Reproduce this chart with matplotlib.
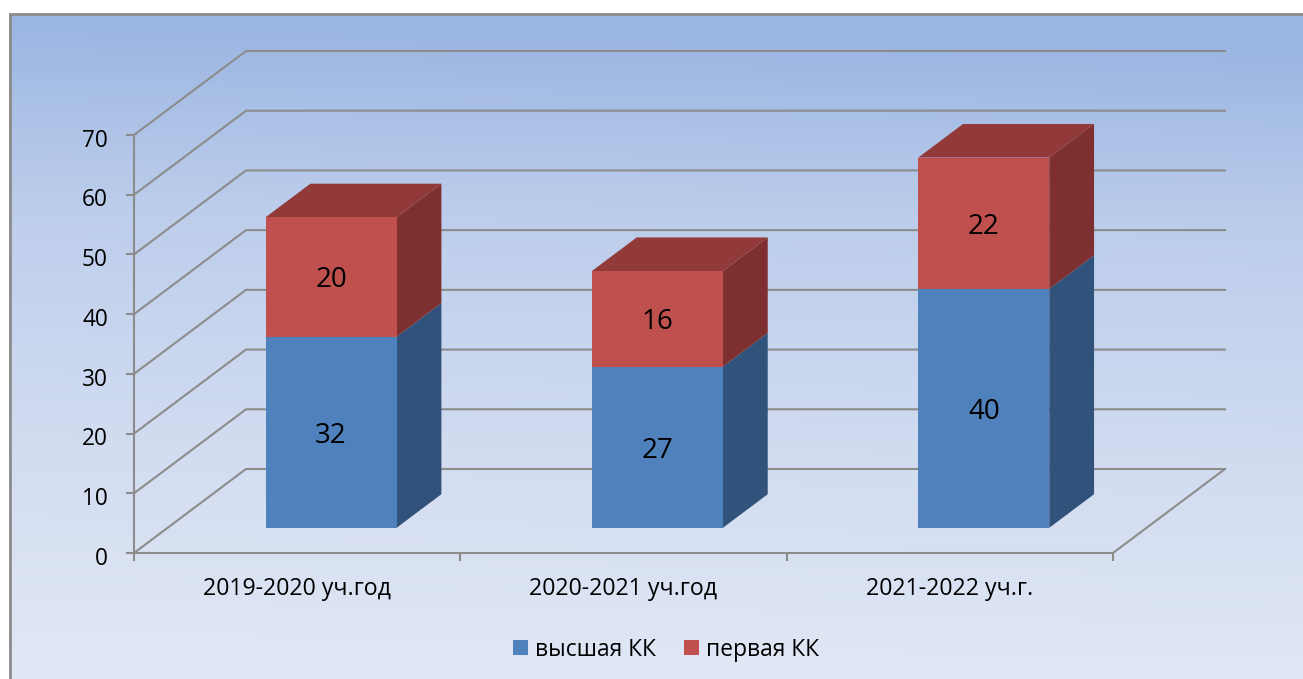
import matplotlib
matplotlib.use("Agg")
import matplotlib.pyplot as plt
from matplotlib.patches import Polygon, Rectangle
from matplotlib.transforms import ScaledTranslation
import numpy as np

categories = ["2019-2020 уч.год", "2020-2021 уч.год", "2021-2022 уч.г."]
series_names = ["высшая КК", "первая КК"]
vysshaya = [32, 27, 40]
pervaya = [20, 16, 22]
y_ticks = [0, 10, 20, 30, 40, 50, 60, 70]

W, H = 1303, 679
GRID = "#8c8c8c"
BLUE = ("#4f81bd", "#31527a")
RED = ("#c0504d", "#7d302f", "#923a39")

plt.rcParams["font.family"] = ["Open Sans", "DejaVu Sans"]

fig = plt.figure(figsize=(W / 100, H / 100), dpi=100, facecolor="white")

# background panel with the gradient, in pixels
bg = fig.add_axes([0, 0, 1, 1])
bg.axis("off")
stops = [0, 0.28, 0.66, 1.0]
grad = np.array([[154, 181, 226], [188, 205, 235], [211, 221, 241], [225, 232, 245]]) / 255
yy, xx = np.mgrid[0:1:200j, 0:1:100j]
t = yy - 0.04 * xx
img = np.dstack([np.interp(t, stops, grad[:, c]) for c in range(3)])
bg.imshow(img, extent=[9, W, H, 14], aspect="auto", zorder=0)
bg.set_xlim(0, W)
bg.set_ylim(H, 0)
bg.plot([9.5, 9.5, W], [H, 14, 14], color=GRID, lw=2, solid_joinstyle="miter", zorder=1)

# main axes is the front plane of the 3d box
left, right, bottom, top = 134, 1113, 553, 135
ax = fig.add_axes([left / W, 1 - bottom / H, (right - left) / W, (bottom - top) / H])
ax.set_xlim(0, 3)
ax.set_ylim(0, 70)
ax.patch.set_alpha(0)
for s in ["top", "right"]:
    ax.spines[s].set_visible(False)
for s in ["left", "bottom"]:
    ax.spines[s].set_color(GRID)
    ax.spines[s].set_linewidth(1.5)

# depth of the box in data units
dx = 112 / ((right - left) / 3)
dy = 84 / ((bottom - top) / 70)

for v in y_ticks:
    ax.plot([0, dx, 3 + dx], [v, v + dy, v + dy], color=GRID, lw=1.5, clip_on=False, zorder=1)
ax.plot([3, 3 + dx], [0, dy], color=GRID, lw=1.5, clip_on=False, zorder=1)

ax.set_yticks(y_ticks)
ax.set_xticks([0, 1, 2, 3])
ax.set_xticklabels([])
ax.tick_params(axis="both", color=GRID, width=1.5, length=5.8)
ax.tick_params(axis="y", labelsize=16.3, pad=13)
ax.set_xticks([0.5, 1.5, 2.5], minor=True)
ax.set_xticklabels(categories, minor=True, fontsize=16.7)
ax.tick_params(axis="x", which="minor", length=0, pad=17.5)

# y labels sit a little below their ticks in the original
for lab in ax.get_yticklabels():
    lab.set_transform(lab.get_transform() + ScaledTranslation(0, -2 / 72, fig.dpi_scale_trans))


def box(x0, x1, y0, y1, colors):
    # front face offset by near depth, side and top go to far depth
    n, f = 0.30, 0.70
    fx0, fx1 = x0 + n * dx, x1 + n * dx
    bx0, bx1 = x0 + f * dx, x1 + f * dx
    fy0, fy1 = y0 + n * dy, y1 + n * dy
    by0, by1 = y0 + f * dy, y1 + f * dy
    ax.add_patch(Polygon([(fx1, fy0), (bx1, by0), (bx1, by1), (fx1, fy1)], fc=colors[1], ec="none", clip_on=False, zorder=3))
    ax.add_patch(Rectangle((fx0, fy0), fx1 - fx0, fy1 - fy0, fc=colors[0], ec="none", clip_on=False, zorder=4))
    if len(colors) > 2:
        ax.add_patch(Polygon([(fx0, fy1), (bx0, by1), (bx1, by1), (fx1, fy1)], fc=colors[2], ec="none", clip_on=False, zorder=3))
    return (fx0 + fx1) / 2, (fy0 + fy1) / 2


def value_label(cx, cy, v):
    ax.annotate(str(v), (cx, cy), xytext=(0, -2.5), textcoords="offset points", ha="center", va="center",
                fontsize=20, color="black", zorder=5, annotation_clip=False)


bar_w = 131 / ((right - left) / 3)
for i in range(len(categories)):
    x0 = i + 0.5 - bar_w / 2 + 0.001
    x1 = x0 + bar_w
    a = vysshaya[i]
    b = pervaya[i]
    cx, cy = box(x0, x1, 0, a, BLUE)
    value_label(cx, cy, a)
    cx, cy = box(x0, x1, a, a + b, RED)
    value_label(cx, cy, b)

handles = [Rectangle((0, 0), 1, 1, fc=BLUE[0]), Rectangle((0, 0), 1, 1, fc=RED[0])]
fig.legend(handles, series_names, loc="center", bbox_to_anchor=(666 / W, 1 - 649.5 / H), ncol=2,
           frameon=False, fontsize=16.4, handlelength=0.66, handleheight=0.66,
           handletextpad=0.3, columnspacing=1.27)

fig.savefig("out.png", dpi=100)
